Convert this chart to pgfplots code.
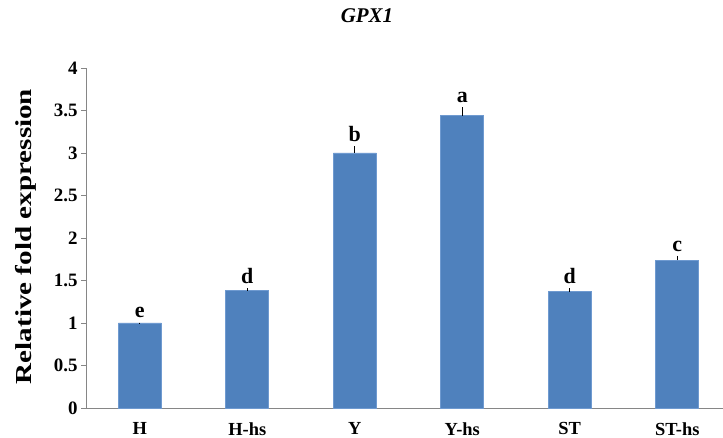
\documentclass[border=0pt]{standalone}
\usepackage{pgfplots}
\usepackage{pgfplotstable}
\pgfplotsset{compat=1.18}
\usepackage{fontspec}
\setmainfont{Liberation Serif}
\definecolor{barblue}{HTML}{4F81BD}
\definecolor{baredge}{HTML}{6F9AD0}
\definecolor{axgray}{HTML}{868686}
\pgfplotstableread{
x val err lab
0 1.00 0.005 e
1 1.38 0.03 d
2 3.00 0.08 b
3 3.44 0.10 a
4 1.37 0.04 d
5 1.74 0.05 c
}\datatab
\begin{document}
\begin{tikzpicture}[x=1bp,y=1bp]
\useasboundingbox (0,0) rectangle (723,438);
\node[font=\fontsize{21}{23}\selectfont\bfseries\itshape] at (367,422) {GPX1};
\node[font=\fontsize{23}{25}\selectfont\bfseries, rotate=90] at (26,201.5) {\scalebox{1.27}[1]{Relative fold expression}};
\begin{axis}[
  at={(86bp,30bp)}, anchor=south west,
  scale only axis, width=645bp, height=340bp,
  xmin=-0.5, xmax=5.5, ymin=0, ymax=4,
  axis x line*=bottom, axis y line*=left,
  axis line style={axgray, line width=0.8pt},
  xtick={0,...,5}, xticklabels={H,H-hs,Y,Y-hs,ST,ST-hs},
  extra x ticks={0.5,1.5,2.5,3.5,4.5},
  extra x tick labels={},
  extra x tick style={major tick length=5bp, tick style={axgray, line width=0.8pt}, tick align=outside},
  x tick style={draw=none},
  ytick={0,0.5,...,4},
  yticklabels={0,0.5,1,1.5,2,2.5,3,3.5,4},
  y tick style={axgray, line width=0.8pt},
  tick align=outside, major tick length=5bp,
  yticklabel style={font=\fontsize{19}{21}\selectfont\bfseries},
  xticklabel style={font=\fontsize{18.5}{20}\selectfont\bfseries, yshift=-6bp},
  /pgf/number format/assume math mode=true,
  clip=false,
]
\addplot[ybar, bar width=43bp, fill=barblue, draw=baredge, line width=0.6pt,
  error bars/.cd, y dir=plus, y explicit, error mark=none,
  error bar style={black, line width=0.8pt}]
  table[x=x, y=val, y error=err] {\datatab};
\addplot[only marks, mark=none,
  nodes near coords={\pgfplotspointmeta},
  point meta=explicit symbolic,
  nodes near coords style={font=\fontsize{22}{24}\selectfont\bfseries, anchor=south, yshift=1bp}]
  table[x=x, y expr=\thisrow{val}+\thisrow{err}, meta=lab] {\datatab};
\end{axis}
\end{tikzpicture}
\end{document}
